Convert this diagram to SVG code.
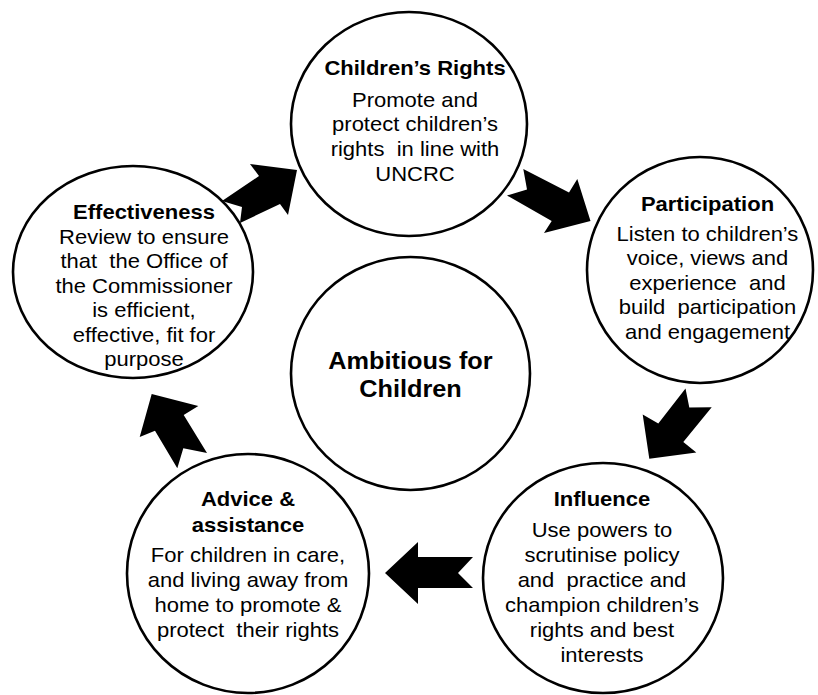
<svg xmlns="http://www.w3.org/2000/svg" width="818" height="695" viewBox="0 0 818 695">
<style>
  .node { fill: #ffffff; stroke: #000000; stroke-width: 2.6; }
  .arrow { fill: #000000; stroke: none; }
  text { font-family: "Liberation Sans", Arial, sans-serif; fill: #000000; text-anchor: middle; white-space: pre; }
  .t { font-size: 20px; font-weight: bold; }
  .b { font-size: 20px; }
  .c { font-size: 23px; font-weight: bold; }
</style>
<rect x="0" y="0" width="818" height="695" fill="#ffffff"/>

<g id="node-childrens-rights">
  <ellipse class="node" cx="409" cy="124" rx="118" ry="112"/>
  <g transform="matrix(1.1 0 0 1 -41.5 0)">
    <text class="t" x="415" y="75">Children’s Rights</text>
    <text class="b" x="415" y="107">Promote and</text>
    <text class="b" x="415" y="131.5">protect children’s</text>
    <text class="b" x="415" y="156.5" xml:space="preserve">rights  in line with</text>
    <text class="b" x="415" y="181.5">UNCRC</text>
  </g>
</g>

<g id="node-participation">
  <ellipse class="node" cx="700" cy="270" rx="113" ry="113"/>
  <g transform="matrix(1.1 0 0 1 -70.75 0)">
    <text class="t" x="707.5" y="211">Participation</text>
    <text class="b" x="707.5" y="241.5">Listen to children’s</text>
    <text class="b" x="707.5" y="265.5">voice, views and</text>
    <text class="b" x="707.5" y="290" xml:space="preserve">experience  and</text>
    <text class="b" x="707.5" y="314.5" xml:space="preserve">build  participation</text>
    <text class="b" x="707.5" y="339">and engagement</text>
  </g>
</g>

<g id="node-effectiveness">
  <ellipse class="node" cx="133" cy="272" rx="120" ry="106"/>
  <g transform="matrix(1.1 0 0 1 -14.4 0)">
    <text class="t" x="144" y="219.5">Effectiveness</text>
    <text class="b" x="144" y="244">Review to ensure</text>
    <text class="b" x="144" y="268.4" xml:space="preserve">that  the Office of</text>
    <text class="b" x="144" y="292.8">the Commissioner</text>
    <text class="b" x="144" y="317.2">is efficient,</text>
    <text class="b" x="144" y="341.6">effective, fit for</text>
    <text class="b" x="144" y="366">purpose</text>
  </g>
</g>

<g id="node-ambitious">
  <ellipse class="node" cx="410.5" cy="373.5" rx="119.5" ry="116.5"/>
  <g transform="matrix(1.1 0 0 1 -41.05 0)">
    <text class="c" x="410.5" y="369">Ambitious for</text>
    <text class="c" x="410.5" y="397">Children</text>
  </g>
</g>

<g id="node-advice">
  <ellipse class="node" cx="248" cy="573.5" rx="121" ry="119.5"/>
  <g transform="matrix(1.1 0 0 1 -24.8 0)">
    <text class="t" x="248" y="506.5">Advice &amp;</text>
    <text class="t" x="248" y="532">assistance</text>
    <text class="b" x="248" y="562.5">For children in care,</text>
    <text class="b" x="248" y="587.5">and living away from</text>
    <text class="b" x="248" y="612.5">home to promote &amp;</text>
    <text class="b" x="248" y="637.5" xml:space="preserve">protect  their rights</text>
  </g>
</g>

<g id="node-influence">
  <ellipse class="node" cx="603" cy="578" rx="120" ry="115"/>
  <g transform="matrix(1.1 0 0 1 -60.2 0)">
    <text class="t" x="602" y="506.5">Influence</text>
    <text class="b" x="602" y="537.5">Use powers to</text>
    <text class="b" x="602" y="562">scrutinise policy</text>
    <text class="b" x="602" y="587" xml:space="preserve">and  practice and</text>
    <text class="b" x="602" y="612.5">champion children’s</text>
    <text class="b" x="602" y="637.5">rights and best</text>
    <text class="b" x="602" y="662.5">interests</text>
  </g>
</g>

<g id="connectors">
  <polygon class="arrow" points="297,170 250,164 259,176 222,201 242,207 240,223 280,204 288,215"/>
  <polygon class="arrow" points="590.5,221 577.3,179 569,192.5 523.3,169 527,189.5 507,195.5 551.7,221 544,233"/>
  <polygon class="arrow" points="649.3,458.7 642.7,414.5 658.3,423.5 685.5,388.5 689.3,407.5 711.7,407.3 683.3,442 696.3,452.5"/>
  <polygon class="arrow" points="385,573 418,542 418,557 473,557 458,573 473,588 418,588 418,604"/>
  <polygon class="arrow" points="151.7,394 198.3,406 183.7,415 207,453 183.3,448.3 177.3,468.3 155,430.7 139.7,437"/>
</g>
</svg>
